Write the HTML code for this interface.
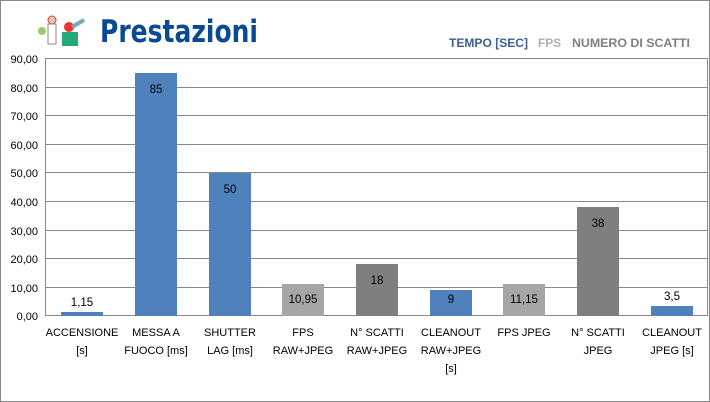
<!DOCTYPE html>
<html><head><meta charset="utf-8"><style>
html,body{margin:0;padding:0;background:#fff}
svg{display:block;font-family:"Liberation Sans",sans-serif}
</style></head><body>
<svg width="710" height="402" viewBox="0 0 710 402">
<rect x="0.5" y="0.5" width="709" height="401" fill="#fff" stroke="#888"/>
<g>
<circle cx="52" cy="20" r="4" fill="#e8c4a8" stroke="#c44" stroke-width="1"/>
<rect x="48" y="24" width="8" height="20" fill="#fff" stroke="#888"/>
<circle cx="42" cy="31" r="4" fill="#9c6"/>
<circle cx="69" cy="27" r="5" fill="#e33"/>
<rect x="62" y="32" width="16" height="14" fill="#2a7" />
<path d="M72 27 L84 20" stroke="#7ab" stroke-width="4"/>
</g>
<text x="100" y="42" font-size="31" font-weight="bold" fill="#0a4a93" font-family="DejaVu Sans, sans-serif" textLength="158" lengthAdjust="spacingAndGlyphs">Prestazioni</text>
<g font-size="11.5" font-weight="bold">
<text x="449" y="47" fill="#3d5f8f" textLength="79" lengthAdjust="spacingAndGlyphs">TEMPO [SEC]</text>
<text x="538" y="47" fill="#b0b0b0" textLength="23" lengthAdjust="spacingAndGlyphs">FPS</text>
<text x="572" y="47" fill="#808080" textLength="118" lengthAdjust="spacingAndGlyphs">NUMERO DI SCATTI</text>
</g>
<g stroke="#888" stroke-width="1">
<line x1="45" y1="58.5" x2="707" y2="58.5"/>
<line x1="45" y1="87.5" x2="707" y2="87.5"/>
<line x1="45" y1="115.5" x2="707" y2="115.5"/>
<line x1="45" y1="144.5" x2="707" y2="144.5"/>
<line x1="45" y1="172.5" x2="707" y2="172.5"/>
<line x1="45" y1="201.5" x2="707" y2="201.5"/>
<line x1="45" y1="230.5" x2="707" y2="230.5"/>
<line x1="45" y1="258.5" x2="707" y2="258.5"/>
<line x1="45" y1="287.5" x2="707" y2="287.5"/>
<line x1="45" y1="315.5" x2="707" y2="315.5"/>
<line x1="45.5" y1="58" x2="45.5" y2="316"/>
<line x1="707.5" y1="58" x2="707.5" y2="316"/>
</g>
<g font-size="11" fill="#000" text-anchor="end">
<text x="38" y="63">90,00</text>
<text x="38" y="92">80,00</text>
<text x="38" y="120">70,00</text>
<text x="38" y="149">60,00</text>
<text x="38" y="177">50,00</text>
<text x="38" y="206">40,00</text>
<text x="38" y="235">30,00</text>
<text x="38" y="263">20,00</text>
<text x="38" y="292">10,00</text>
<text x="38" y="320">0,00</text>
</g>
<g>
<rect x="61" y="312" width="42" height="4" fill="#4f81bd"/>
<rect x="135" y="73" width="42" height="243" fill="#4f81bd"/>
<rect x="209" y="173" width="42" height="143" fill="#4f81bd"/>
<rect x="282" y="284" width="42" height="32" fill="#a6a6a6"/>
<rect x="356" y="264" width="42" height="52" fill="#7f7f7f"/>
<rect x="430" y="290" width="42" height="26" fill="#4f81bd"/>
<rect x="503" y="284" width="42" height="32" fill="#a6a6a6"/>
<rect x="577" y="207" width="42" height="109" fill="#7f7f7f"/>
<rect x="651" y="306" width="42" height="10" fill="#4f81bd"/>
</g>
<g font-size="11.5" fill="#000" text-anchor="middle">
<text x="82" y="306">1,15</text>
<text x="156" y="93">85</text>
<text x="230" y="193">50</text>
<text x="303" y="303">10,95</text>
<text x="377" y="284">18</text>
<text x="451" y="303">9</text>
<text x="524" y="303">11,15</text>
<text x="598" y="227">38</text>
<text x="672" y="300">3,5</text>
</g>
<g font-size="11" fill="#000" text-anchor="middle">
<text x="82" y="336">ACCENSIONE</text><text x="82" y="354">[s]</text>
<text x="156" y="336">MESSA A</text><text x="156" y="354">FUOCO [ms]</text>
<text x="230" y="336">SHUTTER</text><text x="230" y="354">LAG [ms]</text>
<text x="303" y="336">FPS</text><text x="303" y="354">RAW+JPEG</text>
<text x="377" y="336">N° SCATTI</text><text x="377" y="354">RAW+JPEG</text>
<text x="451" y="336">CLEANOUT</text><text x="451" y="354">RAW+JPEG</text><text x="451" y="372">[s]</text>
<text x="524" y="336">FPS JPEG</text>
<text x="598" y="336">N° SCATTI</text><text x="598" y="354">JPEG</text>
<text x="672" y="336">CLEANOUT</text><text x="672" y="354">JPEG [s]</text>
</g>
</svg>
</body></html>
